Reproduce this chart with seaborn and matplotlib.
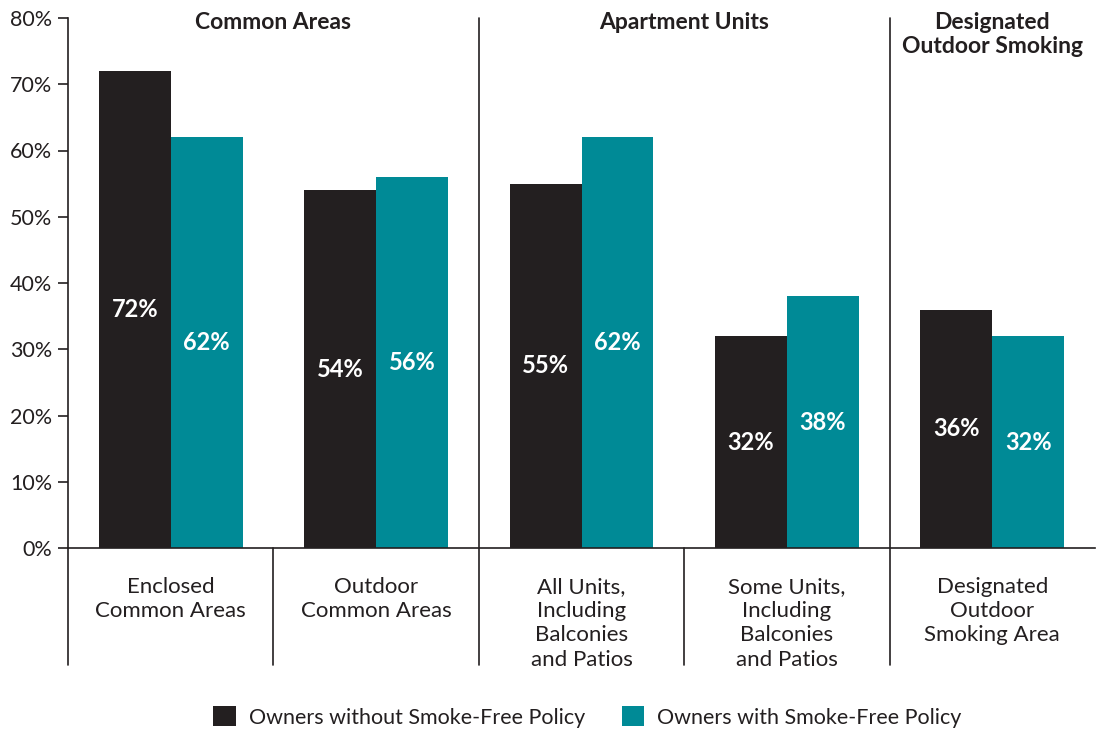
import matplotlib
matplotlib.use("Agg")
import matplotlib.pyplot as plt
import matplotlib.transforms as mtransforms
from matplotlib.patches import Patch
import seaborn as sns
import pandas as pd

categories = ["Enclosed\nCommon Areas", "Outdoor\nCommon Areas",
              "All Units,\nIncluding\nBalconies\nand Patios",
              "Some Units,\nIncluding\nBalconies\nand Patios",
              "Designated\nOutdoor\nSmoking Area"]
series_names = ["Owners without Smoke-Free Policy", "Owners with Smoke-Free Policy"]
without_policy = [72, 54, 55, 32, 36]
with_policy = [62, 56, 62, 38, 32]
section_titles = ["Common Areas", "Apartment Units", "Designated\nOutdoor Smoking"]
yticks = [0, 10, 20, 30, 40, 50, 60, 70, 80]

DARK = "#231f20"
TEAL = "#008a96"

rows = []
for c, a, b in zip(categories, without_policy, with_policy):
    rows.append({"cat": c, "series": series_names[0], "value": a})
    rows.append({"cat": c, "series": series_names[1], "value": b})
df = pd.DataFrame(rows)

sns.set_style("white")
plt.rcParams["font.family"] = ["Lato", "DejaVu Sans"]

fig = plt.figure(figsize=(11.02, 7.30), dpi=100)
W, H = 1102, 730
ax = fig.add_axes([68 / W, (H - 548) / H, (1095 - 68) / W, (548 - 18) / H])

sns.barplot(data=df, x="cat", y="value", hue="series", order=categories,
            hue_order=series_names, palette=[DARK, TEAL], width=0.7,
            saturation=1, ax=ax, legend=False, errorbar=None, linewidth=0)

ax.set_xlim(-0.5, 4.5)
ax.set_ylim(0, 80)
ax.set_yticks(yticks)
ax.set_yticklabels([f"{v}%" for v in yticks])
ax.set_xticks([])
ax.set_xlabel("")
ax.set_ylabel("")
ax.tick_params(axis="y", direction="out", length=7.5, width=1.2, color=DARK,
               labelsize=15.5, labelcolor=DARK, pad=4, left=True)

for s in ["top", "right"]:
    ax.spines[s].set_visible(False)
for s in ["left", "bottom"]:
    ax.spines[s].set_color(DARK)
    ax.spines[s].set_linewidth(1.2)

for cont in ax.containers:
    ax.bar_label(cont, fmt="%.0f%%", label_type="center", color="white",
                 fontsize=17, fontweight="bold")

trans = mtransforms.blended_transform_factory(ax.transData, ax.transAxes)
bottom = (548 - 665) / 530
for x, top in [(-0.5, 0.0), (0.5, 0.0), (1.5, 1.0), (2.5, 0.0), (3.5, 1.0)]:
    ax.plot([x, x], [bottom, top], transform=trans, color=DARK, lw=1.2,
            clip_on=False, zorder=5)

for i, c in enumerate(categories):
    ax.text(i, -0.054, c, transform=trans, ha="center", va="top",
            fontsize=16, color=DARK, linespacing=1.27)

for x, t in zip([0.5, 2.5, 4.0], section_titles):
    ax.text(x, 1.012, t, transform=trans, ha="center", va="top",
            fontsize=16.5, fontweight="bold", color=DARK, linespacing=1.2)

handles = [Patch(facecolor=DARK, edgecolor="none"), Patch(facecolor=TEAL, edgecolor="none")]
fig.legend(handles, series_names, loc="center", bbox_to_anchor=(0.533, 0.018),
           ncol=2, frameon=False, fontsize=15.5, handlelength=1.05,
           handleheight=1.05, columnspacing=1.7, handletextpad=0.6,
           labelcolor=DARK)

fig.savefig("out.png", dpi=100)
